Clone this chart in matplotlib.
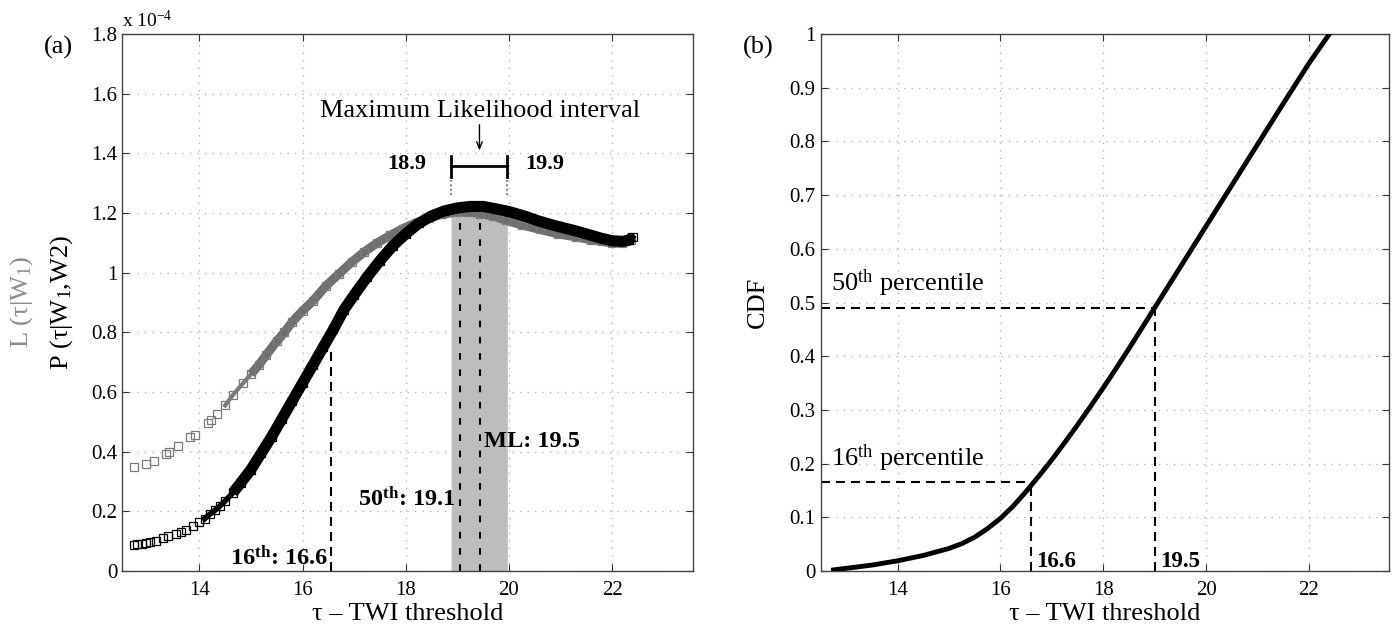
import numpy as np
import matplotlib
matplotlib.use('Agg')
import matplotlib.pyplot as plt
from matplotlib.ticker import FuncFormatter

plt.rcParams['font.family'] = ['Liberation Serif', 'DejaVu Serif']
plt.rcParams['mathtext.default'] = 'regular'

# --- data ---
# L(tau|W1), grey squares, units of 1e-4
L_x = [12.73, 12.97, 13.12, 13.36, 13.42, 13.59, 13.81, 13.91, 14.17, 14.23,
       14.35, 14.5, 14.65, 14.85, 15.0, 15.15, 15.3, 15.5, 15.65, 15.8,
       16.0, 16.2, 16.45, 16.7, 16.95, 17.2, 17.45, 17.7, 17.95, 18.2,
       18.45, 18.7, 18.95, 19.2, 19.45, 19.7, 19.95, 20.25, 20.6, 20.95,
       21.3, 21.6, 21.8, 22.0, 22.2, 22.36]
L_y = [0.347, 0.36, 0.37, 0.393, 0.40, 0.42, 0.45, 0.457, 0.495, 0.505,
       0.525, 0.555, 0.59, 0.63, 0.66, 0.69, 0.725, 0.77, 0.80, 0.835,
       0.872, 0.905, 0.955, 0.995, 1.035, 1.07, 1.10, 1.125, 1.148, 1.167,
       1.183, 1.196, 1.202, 1.203, 1.198, 1.19, 1.175, 1.16, 1.145, 1.13,
       1.12, 1.11, 1.105, 1.10, 1.10, 1.11]

# P(tau|W1,W2), black squares, units of 1e-4
P_x = [12.73, 12.8, 12.88, 12.97, 13.05, 13.15, 13.3, 13.4, 13.55, 13.65,
       13.75, 13.88, 14.0, 14.1, 14.2, 14.3, 14.4, 14.5, 14.65, 14.8,
       15.0, 15.2, 15.4, 15.6, 15.8, 16.0, 16.2, 16.4, 16.6, 16.8,
       17.0, 17.25, 17.5, 17.75, 18.0, 18.25, 18.5, 18.75, 19.0, 19.25,
       19.5, 19.75, 20.0, 20.3, 20.6, 20.95, 21.3, 21.6, 21.8, 22.0,
       22.2, 22.32, 22.4]
P_y = [0.087, 0.089, 0.091, 0.094, 0.097, 0.101, 0.11, 0.116, 0.125, 0.131,
       0.139, 0.15, 0.163, 0.175, 0.19, 0.203, 0.218, 0.235, 0.262, 0.295,
       0.34, 0.395, 0.45, 0.51, 0.57, 0.63, 0.69, 0.75, 0.81, 0.875,
       0.925, 0.985, 1.04, 1.09, 1.13, 1.165, 1.19, 1.207, 1.217, 1.222,
       1.222, 1.214, 1.205, 1.19, 1.172, 1.155, 1.14, 1.125, 1.115, 1.107,
       1.105, 1.108, 1.12]

# CDF of P
C_x = [12.75, 13.0, 13.5, 14.0, 14.5, 15.0, 15.25, 15.5, 15.75, 16.0,
       16.25, 16.5, 16.75, 17.0, 17.25, 17.5, 17.75, 18.0, 18.25, 18.5,
       18.75, 19.0, 19.5, 20.0, 20.5, 21.0, 21.5, 22.0, 22.4]
C_y = [0.002, 0.005, 0.011, 0.019, 0.029, 0.042, 0.051, 0.063, 0.079, 0.098,
       0.121, 0.148, 0.177, 0.207, 0.239, 0.272, 0.306, 0.341, 0.377, 0.414,
       0.452, 0.49, 0.566, 0.642, 0.718, 0.794, 0.870, 0.945, 1.0]

ml_lo, ml_hi = 18.88, 19.97      # maximum likelihood interval
p16_left, p50_left, ml_left = 16.55, 19.05, 19.45
p16_cdf, p50_cdf = 16.6, 19.0
p16_val, p50_val = 0.165, 0.49

xticks = [14, 16, 18, 20, 22]
xlim = (12.5, 23.57)

fig = plt.figure(figsize=(13.95, 6.26), dpi=100)
ax1 = fig.add_axes([122 / 1395, 55 / 626, 571 / 1395, 537 / 626])
ax2 = fig.add_axes([820.5 / 1395, 55 / 626, 569 / 1395, 537 / 626])

fmt = FuncFormatter(lambda v, p: f'{v:g}')


def style(ax):
    ax.tick_params(direction='in', top=True, right=True, length=5, width=0.8,
                   colors='#333333', labelcolor='black', labelsize=15)
    ax.tick_params(axis='x', pad=7)
    ax.tick_params(axis='y', pad=3.5)
    for s in ax.spines.values():
        s.set_color('#444444')
        s.set_linewidth(1)
    ax.grid(True, color='#aaaaaa', linestyle=(0, (1, 5)), lw=0.9)
    ax.set_axisbelow(True)
    ax.set_xlim(*xlim)
    ax.set_xticks(xticks)
    ax.xaxis.set_major_formatter(fmt)
    ax.yaxis.set_major_formatter(fmt)
    ax.set_xlabel('τ \u2013 TWI threshold', fontsize=19, labelpad=2)


# ---------------- panel (a) ----------------
style(ax1)
ax1.set_ylim(0, 1.8)
ax1.set_yticks(np.arange(0, 1.81, 0.2))

# shaded ML interval under the grey curve
bx = [ml_lo] + [x for x in L_x if ml_lo < x < ml_hi] + [ml_hi]
ax1.fill_between(bx, 0, np.interp(bx, L_x, L_y), color='#bdbdbd', lw=0, zorder=1)

dash_long = (4.3, 2.9)
dash_short = (3.2, 4.6)
ax1.plot([p16_left, p16_left], [0, 0.74], color='k', lw=1.5, dashes=dash_long, zorder=2)
ax1.plot([p50_left, p50_left], [0, 1.17], color='k', lw=1.5, dashes=dash_short, zorder=2)
ax1.plot([ml_left, ml_left], [0, 1.17], color='k', lw=1.5, dashes=dash_short, zorder=2)

Lx = np.array(L_x)
Ly = np.array(L_y)
Px = np.array(P_x)
Py = np.array(P_y)
# densely packed markers look like a thick band: thin line first, thicker further on
ax1.plot(Lx[Lx >= 14.4], Ly[Lx >= 14.4], color='#7a7a7a', lw=3, zorder=3)
ax1.plot(Lx[Lx >= 14.95], Ly[Lx >= 14.95], color='#6f6f6f', lw=6.5, solid_capstyle='butt', zorder=3)
ax1.plot(Lx, Ly, 's', mfc='none', mec='#7a7a7a', ms=5.5, mew=0.9, zorder=3)
ax1.plot(Px[Px >= 14.1], Py[Px >= 14.1], color='k', lw=4, zorder=4)
ax1.plot(Px[Px >= 14.6], Py[Px >= 14.6], color='k', lw=8, solid_capstyle='butt', zorder=4)
ax1.plot(Px, Py, 's', mfc='none', mec='k', ms=5.5, mew=0.9, zorder=4)

# ML interval bar and labels
ax1.plot([ml_lo, ml_hi], [1.357, 1.357], color='k', lw=2)
for xe in (ml_lo, ml_hi):
    ax1.plot([xe, xe], [1.32, 1.39], color='k', lw=2)
    ax1.plot([xe, xe], [1.26, 1.31], color='#555555', lw=1.2, linestyle=':')
ax1.text(18.4, 1.346, '18.9', ha='right', va='baseline', fontsize=16, fontweight='bold')
ax1.text(20.32, 1.346, '19.9', ha='left', va='baseline', fontsize=16, fontweight='bold')
ax1.text(19.45, 1.522, 'Maximum Likelihood interval', ha='center', va='baseline', fontsize=19)
ax1.annotate('', xy=(19.43, 1.40), xytext=(19.43, 1.505),
             arrowprops=dict(arrowstyle='->,head_length=0.5,head_width=0.2', lw=1, color='k'))

ax1.text(19.52, 0.414, 'ML: 19.5', ha='left', va='baseline', fontsize=17.5, fontweight='bold')
ax1.text(18.97, 0.216, '50$^{th}$: 19.1', ha='right', va='baseline', fontsize=17.5, fontweight='bold')
ax1.text(16.5, 0.02, '16$^{th}$: 16.6', ha='right', va='baseline', fontsize=17.5, fontweight='bold')

ax1.text(0, 1.006, 'x 10$^{-4}$', transform=ax1.transAxes, ha='left', va='bottom', fontsize=14)
ax1.text(-0.175, 0.5, 'L (τ|W$_1$)', transform=ax1.transAxes, rotation=90,
         ha='center', va='center', fontsize=19, color='#8c8c8c')
ax1.text(-0.105, 0.5, 'P (τ|W$_1$,W2)', transform=ax1.transAxes, rotation=90,
         ha='center', va='center', fontsize=19, color='k')

# ---------------- panel (b) ----------------
style(ax2)
ax2.set_ylim(0, 1)
ax2.set_yticks(np.arange(0, 1.01, 0.1))
ax2.plot(C_x, C_y, color='k', lw=3.5, zorder=4)

ax2.plot([xlim[0], p50_cdf], [p50_val, p50_val], color='k', lw=1.5, dashes=dash_long)
ax2.plot([p50_cdf, p50_cdf], [0, p50_val], color='k', lw=1.5, dashes=dash_long)
ax2.plot([xlim[0], p16_cdf], [p16_val, p16_val], color='k', lw=1.5, dashes=dash_long)
ax2.plot([p16_cdf, p16_cdf], [0, p16_val], color='k', lw=1.5, dashes=dash_long)

ax2.text(12.7, 0.521, '50$^{th}$ percentile', ha='left', va='baseline', fontsize=19)
ax2.text(12.7, 0.195, '16$^{th}$ percentile', ha='left', va='baseline', fontsize=19)
ax2.text(16.7, 0.008, '16.6', ha='left', va='baseline', fontsize=16.5, fontweight='bold')
ax2.text(19.1, 0.008, '19.5', ha='left', va='baseline', fontsize=16.5, fontweight='bold')
ax2.text(-0.11, 0.5, 'CDF', transform=ax2.transAxes, rotation=90,
         ha='center', va='center', fontsize=19)

fig.text(58 / 1395, 1 - 47 / 626, '(a)', ha='center', va='center', fontsize=19)
fig.text(758 / 1395, 1 - 47 / 626, '(b)', ha='center', va='center', fontsize=19)

fig.savefig('out.png', dpi=100)
